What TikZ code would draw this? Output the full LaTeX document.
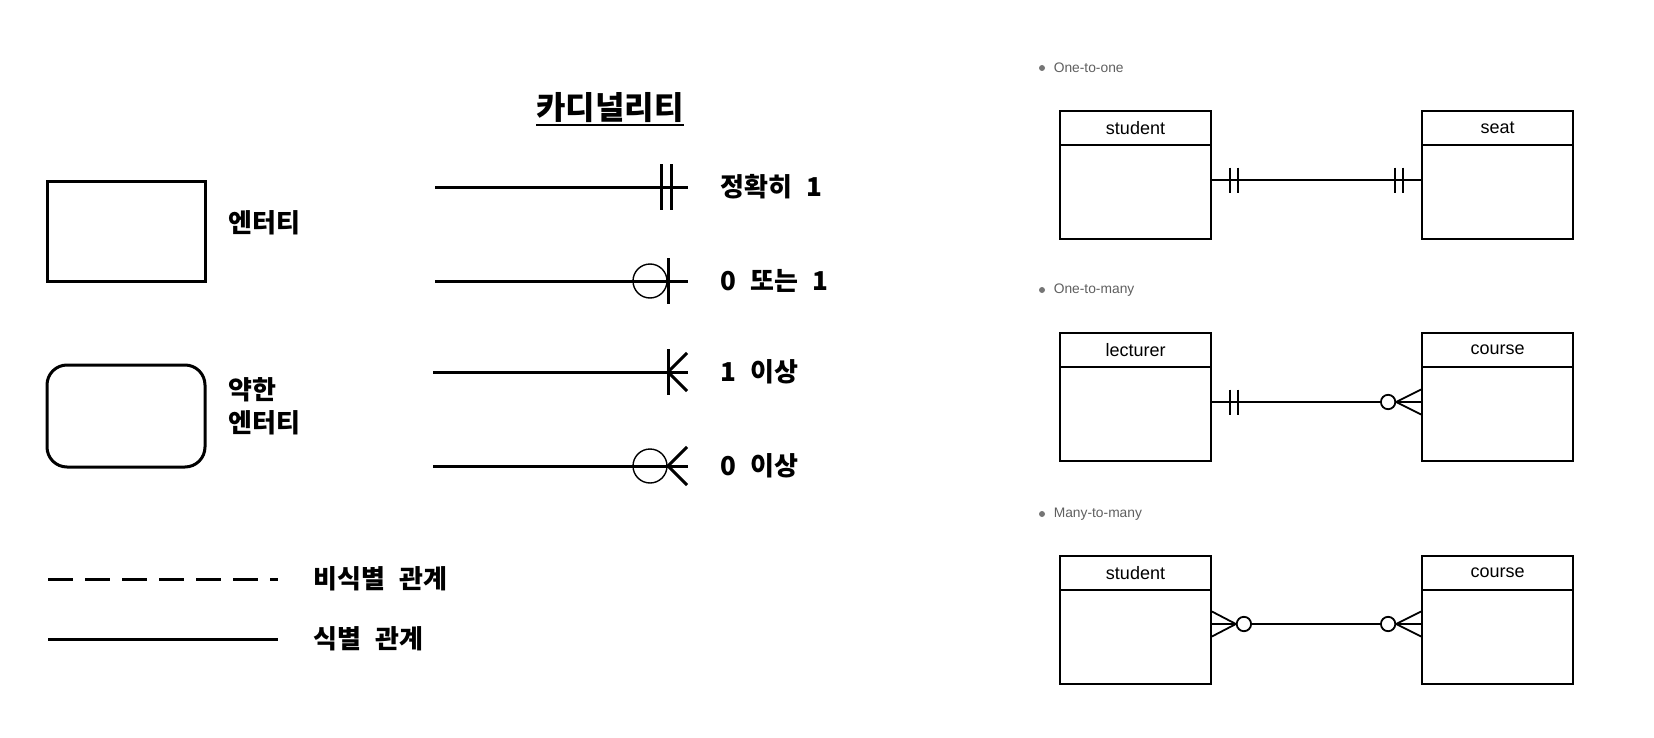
\documentclass[tikz,border=0pt]{standalone}
\usepackage{fontspec}
\setmainfont{Liberation Sans}
\newfontfamily\kr[WordSpace = 2.4]{Noto Sans CJK KR}
\usetikzlibrary{calc, positioning}
\definecolor{bulletgray}{HTML}{757575}
\definecolor{notegray}{HTML}{5F5F5F}

\begin{document}
\begin{tikzpicture}[x = 0.5pt, y = -0.5pt]%
    %
    \def\barhalf{12.5}%
    \def\markhalf{23}%
    %
    \tikzstyle{legendline} = [draw = black, line width = 1.5pt]%
    \tikzstyle{markline} = [draw = black, line width = 0.7pt]%
    \tikzstyle{thinline} = [draw = black, line width = 0.9pt]%
    \tikzstyle{entity} = [draw = black, line width = 1.5pt, minimum width = 79pt, minimum height = 50pt, inner sep = 0pt]%
    \tikzstyle{legendtext} = [inner sep = 0pt, anchor = west, align = left, font = \kr\bfseries\fontsize{13pt}{16.5pt}\selectfont]%
    \tikzstyle{table} = [draw = black, line width = 0.9pt, minimum width = 75.5pt, minimum height = 64pt, inner sep = 0pt]%
    \tikzstyle{tablehead} = [draw = black, line width = 0.9pt, minimum width = 75.5pt, minimum height = 17pt, inner sep = 0pt, anchor = north, font = \fontsize{9pt}{11pt}\selectfont]%
    \tikzstyle{caption} = [inner sep = 0pt, anchor = west, text = notegray, font = \fontsize{6.9pt}{8pt}\selectfont]%
    \tikzstyle{bullet} = [circle, fill = bulletgray, inner sep = 0pt, minimum size = 3pt]%
    \tikzstyle{zero} = [draw = black, line width = 0.9pt, fill = white]%
    %
    \useasboundingbox (0, 0) rectangle (1654, 738);%
    %
    % Entities
    \node (entity) [entity] at (126, 231) {};%
    \node (entitylabel) [legendtext] at (228, 223) {엔터티};%
    \node (weak) [entity, minimum height = 51pt, rounded corners = 10pt] at (126, 416) {};%
    \node (weaklabel) [legendtext] at (228, 406) {약한\\엔터티};%
    %
    % Title
    \node (title) [inner sep = 0pt, font = \kr\bfseries\fontsize{16pt}{19pt}\selectfont] at (610, 108) {카디널리티};%
    \coordinate (underline) at (0, 125);%
    \draw [line width = 1pt] (title.west |- underline) -- (title.east |- underline);%
    %
    % Exactly one
    \coordinate (exactS) at (435, 187);%
    \coordinate (exactE) at (688, 187);%
    \draw [legendline] (exactS) -- (exactE);%
    \draw [legendline] ($(exactS) + (226, -\markhalf)$) -- +(0, 46);%
    \draw [legendline] ($(exactS) + (236, -\markhalf)$) -- +(0, 46);%
    \node (exactlabel) [legendtext] at (720, 187) {정확히 1};%
    %
    % Zero or one
    \coordinate (optS) at (435, 281);%
    \coordinate (optE) at (688, 281);%
    \draw [legendline] (optS) -- (optE);%
    \draw [markline] (650, 281) circle [radius = 8.5pt];%
    \draw [legendline] ($(optE) + (-20, -\markhalf)$) -- +(0, 46);%
    \node (optlabel) [legendtext] at (720, 281) {0 또는 1};%
    %
    % One or more
    \coordinate (manyS) at (433, 372);%
    \coordinate (manyE) at (688, 372);%
    \coordinate (manyV) at (668, 372);%
    \draw [legendline] (manyS) -- (manyE);%
    \draw [legendline] ($(manyV) + (0, -\markhalf)$) -- +(0, 46);%
    \draw [legendline] ($(manyV) + (19, -19)$) -- (manyV) -- ($(manyV) + (19, 19)$);%
    \node (manylabel) [legendtext] at (720, 372) {1 이상};%
    %
    % Zero or more
    \coordinate (anyS) at (433, 466);%
    \coordinate (anyE) at (688, 466);%
    \coordinate (anyV) at (668, 466);%
    \draw [legendline] (anyS) -- (anyE);%
    \draw [markline] (650, 466) circle [radius = 8.5pt];%
    \draw [legendline] ($(anyV) + (19, -19)$) -- (anyV) -- ($(anyV) + (19, 19)$);%
    \node (anylabel) [legendtext] at (720, 466) {0 이상};%
    %
    % Relationships
    \coordinate (weakrelS) at (48, 579);%
    \coordinate (weakrelE) at (278, 579);%
    \draw [legendline, dash pattern = on 12.5pt off 6pt] (weakrelS) -- (weakrelE);%
    \node (weakrellabel) [legendtext] at (313, 579) {비식별 관계};%
    \coordinate (idrelS) at (48, 639);%
    \coordinate (idrelE) at (278, 639);%
    \draw [legendline] (idrelS) -- (idrelE);%
    \node (idrellabel) [legendtext] at (313, 639) {식별 관계};%
    %
    % One-to-one
    \node (dotA) [bullet] at (1042, 68) {};%
    \node (capA) [caption, right = 4pt of dotA] {One-to-one};%
    \node (studentA) [table] at (1135.5, 175) {};%
    \node (studentAhead) [tablehead] at (studentA.north) {student};%
    \node (seatA) [table] at (1497.5, 175) {};%
    \node (seatAhead) [tablehead] at (seatA.north) {seat};%
    \coordinate (studentAend) at ($(studentA.east) + (0, 5)$);%
    \coordinate (seatAend) at ($(seatA.west) + (0, 5)$);%
    \draw [thinline] (studentAend) -- (seatAend);%
    \draw [thinline] ($(studentAend) + (18, -\barhalf)$) -- +(0, 25);%
    \draw [thinline] ($(studentAend) + (26, -\barhalf)$) -- +(0, 25);%
    \draw [thinline] ($(seatAend) + (-26, -\barhalf)$) -- +(0, 25);%
    \draw [thinline] ($(seatAend) + (-18, -\barhalf)$) -- +(0, 25);%
    %
    % One-to-many
    \node (dotB) [bullet] at (1042, 290) {};%
    \node (capB) [caption, right = 4pt of dotB] {One-to-many};%
    \node (lecturerB) [table] at (1135.5, 397) {};%
    \node (lecturerBhead) [tablehead] at (lecturerB.north) {lecturer};%
    \node (courseB) [table] at (1497.5, 397) {};%
    \node (courseBhead) [tablehead] at (courseB.north) {course};%
    \coordinate (lecturerBend) at ($(lecturerB.east) + (0, 5)$);%
    \coordinate (courseBend) at ($(courseB.west) + (0, 5)$);%
    \draw [thinline] (lecturerBend) -- (courseBend);%
    \draw [thinline] ($(lecturerBend) + (18, -\barhalf)$) -- +(0, 25);%
    \draw [thinline] ($(lecturerBend) + (26, -\barhalf)$) -- +(0, 25);%
    \draw [thinline] ($(courseBend) + (0, -\barhalf)$) -- ($(courseBend) + (-25, 0)$) -- ($(courseBend) + (0, \barhalf)$);%
    \draw [zero] ($(courseBend) + (-33, 0)$) circle [radius = 3.6pt];%
    %
    % Many-to-many
    \node (dotC) [bullet] at (1042, 514) {};%
    \node (capC) [caption, right = 4pt of dotC] {Many-to-many};%
    \node (studentC) [table] at (1135.5, 620) {};%
    \node (studentChead) [tablehead] at (studentC.north) {student};%
    \node (courseC) [table] at (1497.5, 620) {};%
    \node (courseChead) [tablehead] at (courseC.north) {course};%
    \coordinate (studentCend) at ($(studentC.east) + (0, 4)$);%
    \coordinate (courseCend) at ($(courseC.west) + (0, 4)$);%
    \draw [thinline] (studentCend) -- (courseCend);%
    \draw [thinline] ($(studentCend) + (0, -\barhalf)$) -- ($(studentCend) + (24, 0)$) -- ($(studentCend) + (0, \barhalf)$);%
    \draw [zero] ($(studentCend) + (32, 0)$) circle [radius = 3.6pt];%
    \draw [thinline] ($(courseCend) + (0, -\barhalf)$) -- ($(courseCend) + (-25, 0)$) -- ($(courseCend) + (0, \barhalf)$);%
    \draw [zero] ($(courseCend) + (-33, 0)$) circle [radius = 3.6pt];%
    %
\end{tikzpicture}
\end{document}
